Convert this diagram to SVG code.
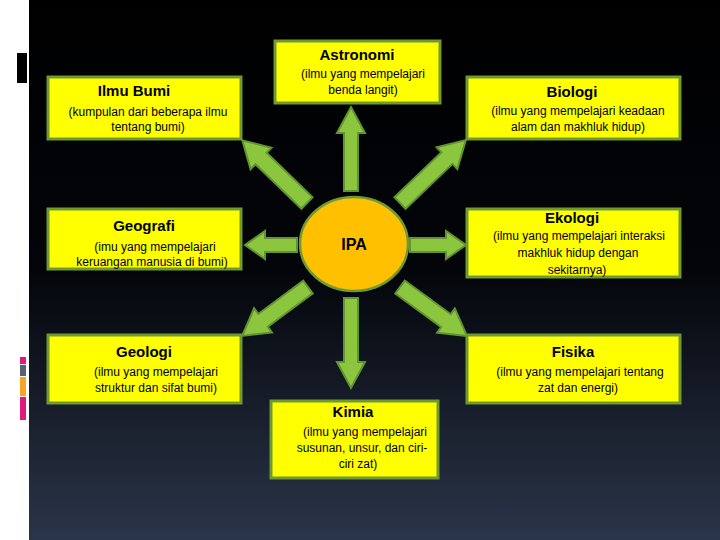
<svg xmlns="http://www.w3.org/2000/svg" width="720" height="540" viewBox="0 0 720 540">
<defs>
<linearGradient id="bg" x1="0" y1="0" x2="0" y2="1">
<stop offset="0" stop-color="#000000"/>
<stop offset="0.5" stop-color="#03050a"/>
<stop offset="1" stop-color="#2b3549"/>
</linearGradient>
<style>
.box{fill:#ffff00;stroke:#6f9a33;stroke-width:3}
.arr{fill:#8cc63f;stroke:#5f9430;stroke-width:2;stroke-linejoin:miter}
.t{font-family:"Liberation Sans",Arial,sans-serif;font-size:15px;font-weight:bold;fill:#000;text-anchor:middle}
.d{font-family:"Liberation Sans",Arial,sans-serif;font-size:12px;fill:#000;text-anchor:middle}
</style>
</defs>
<rect x="0" y="0" width="720" height="540" fill="#ffffff"/>
<rect x="29" y="0" width="691" height="540" fill="url(#bg)"/>
<rect x="17" y="53" width="10" height="30" fill="#000000"/>
<rect x="20" y="357" width="6" height="7" fill="#e0197d"/>
<rect x="20" y="365" width="6" height="11" fill="#5a6270"/>
<rect x="20" y="377" width="6" height="19" fill="#f5a623"/>
<rect x="20" y="397" width="6" height="23" fill="#e0197d"/>

<g id="connectors">
<polygon class="arr" transform="translate(351,191) rotate(-90)" points="0,-7 58,-7 58,-14 84,0 58,14 58,7 0,7"/>
<polygon class="arr" transform="translate(351,298) rotate(90)" points="0,-7 64,-7 64,-14 90,0 64,14 64,7 0,7"/>
<polygon class="arr" transform="translate(297,245) rotate(180)" points="0,-7 32,-7 32,-14 52,0 32,14 32,7 0,7"/>
<polygon class="arr" transform="translate(410,245)" points="0,-7 36,-7 36,-14 56,0 36,14 36,7 0,7"/>
<polygon class="arr" transform="translate(307,203) rotate(-135.9)" points="0,-8 64,-8 64,-15 90,0 64,15 64,8 0,8"/>
<polygon class="arr" transform="translate(400,203) rotate(-43.7)" points="0,-8 65,-8 65,-15 91,0 65,15 65,8 0,8"/>
<polygon class="arr" transform="translate(308,287) rotate(143.4)" points="0,-8 56,-8 56,-15 82,0 56,15 56,8 0,8"/>
<polygon class="arr" transform="translate(400,287) rotate(36.2)" points="0,-8 57,-8 57,-15 83,0 57,15 57,8 0,8"/>
</g>

<g id="ipa">
<ellipse cx="354" cy="244" rx="54" ry="47" fill="#ffc000" stroke="#6f9a33" stroke-width="2.5"/>
<text class="t" x="354" y="250" style="font-size:16px">IPA</text>
</g>

<g id="astronomi">
<rect class="box" x="275" y="41" width="165" height="62"/>
<text class="t" x="357" y="60">Astronomi</text>
<text class="d" x="363" y="78">(ilmu yang mempelajari</text>
<text class="d" x="363" y="94">benda langit)</text>
</g>

<g id="ilmubumi">
<rect class="box" x="48" y="77" width="193" height="62"/>
<text class="t" x="134" y="96">Ilmu Bumi</text>
<text class="d" x="148" y="116">(kumpulan dari beberapa ilmu</text>
<text class="d" x="148" y="131">tentang bumi)</text>
</g>

<g id="biologi">
<rect class="box" x="467" y="77" width="213" height="62"/>
<text class="t" x="572" y="97">Biologi</text>
<text class="d" x="578" y="115">(ilmu yang mempelajari keadaan</text>
<text class="d" x="578" y="131">alam dan makhluk hidup)</text>
</g>

<g id="geografi">
<rect class="box" x="48" y="209" width="193" height="60"/>
<text class="t" x="144" y="231">Geografi</text>
<text class="d" x="155" y="251">(imu yang mempelajari</text>
<text class="d" x="152" y="266">keruangan manusia di bumi)</text>
</g>

<g id="ekologi">
<rect class="box" x="467" y="209" width="213" height="68"/>
<text class="t" x="572" y="223">Ekologi</text>
<text class="d" x="579" y="240">(ilmu yang mempelajari interaksi</text>
<text class="d" x="578" y="257">makhluk hidup dengan</text>
<text class="d" x="577" y="274">sekitarnya)</text>
</g>

<g id="geologi">
<rect class="box" x="48" y="335" width="193" height="68"/>
<text class="t" x="144" y="357">Geologi</text>
<text class="d" x="156" y="376">(ilmu yang mempelajari</text>
<text class="d" x="156" y="392">struktur dan sifat bumi)</text>
</g>

<g id="fisika">
<rect class="box" x="467" y="335" width="213" height="68"/>
<text class="t" x="573" y="357">Fisika</text>
<text class="d" x="580" y="376">(ilmu yang mempelajari tentang</text>
<text class="d" x="578" y="392">zat dan energi)</text>
</g>

<g id="kimia">
<rect class="box" x="271" y="401" width="167" height="77"/>
<text class="t" x="353" y="417">Kimia</text>
<text class="d" x="365" y="436">(ilmu yang mempelajari</text>
<text class="d" x="362" y="452">susunan, unsur, dan ciri-</text>
<text class="d" x="358" y="468">ciri zat)</text>
</g>
</svg>
